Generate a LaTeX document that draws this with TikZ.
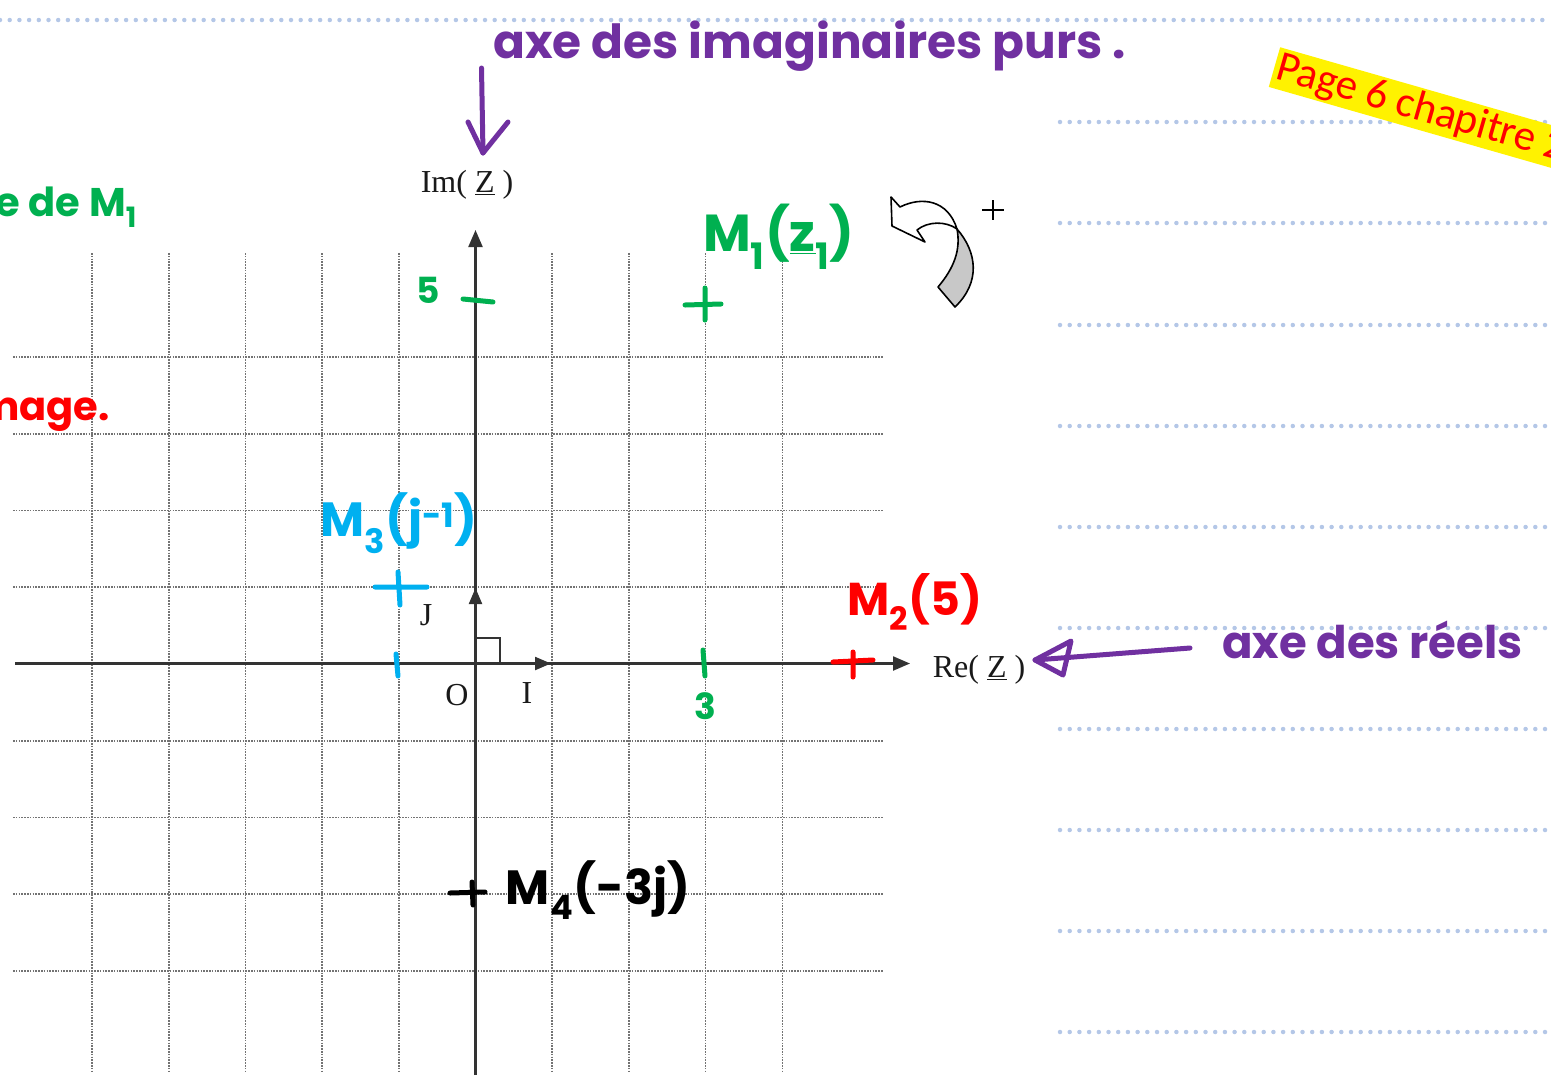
\documentclass[tikz,border=0pt]{standalone}
\usepackage{fontspec}
\setmainfont{Liberation Serif}
\newfontfamily\handfont{Poppins}
\newfontfamily\calfont{Carlito}
\usetikzlibrary{arrows.meta}
\definecolor{purp}{RGB}{112,48,160}
\definecolor{grn}{RGB}{0,176,80}
\definecolor{cyn}{RGB}{0,176,240}
\definecolor{nbblue}{RGB}{180,199,231}
\definecolor{arrgray}{RGB}{200,200,200}
\tikzset{
  gridl/.style={draw=black!55, line width=1.6pt, dash pattern=on 1.6pt off 1.2pt},
  axisl/.style={draw=black!80, line width=2.2pt},
  nbline/.style={draw=nbblue, line width=4.5pt, line cap=round, dash pattern=on 0pt off 9.7pt},
  pen/.style={line width=5pt, line cap=round, line join=round},
  serif/.style={font=\fontsize{32}{36}\selectfont, inner sep=0pt, text=black!90},
  hand/.style={font=\handfont\bfseries\fontsize{#1}{#1}\selectfont, inner sep=0pt},
  hand/.default=44,
}
\begin{document}
\begin{tikzpicture}[x=1pt,y=-1pt]
\useasboundingbox (0,0) rectangle (1551,1080);
% notebook lines
\draw[nbline] (0,20) -- (1551,20);
\foreach \y in {122,223,325,426,527,628,729,830,931,1032}
  \draw[nbline] (1060,\y) -- (1551,\y);
% page label
\node[rotate=-16, anchor=north west, fill=yellow, text=red, font=\calfont\fontsize{43}{48}\selectfont, inner xsep=3pt, inner ysep=2pt] (page) at (1280,47) {Page 6 chapitre 2};
% grid
\foreach \x in {92,168.7,245.4,322.1,398.8,552.2,628.9,705.6,782.3}
  \draw[gridl] (\x,253) -- (\x,1072);
\foreach \y in {357,433.7,510.4,587.1,740.7,817.4,894.1,970.8}
  \draw[gridl] (13,\y) -- (883,\y);
% axes
\coordinate (O) at (475.5,663.5);
\coordinate (xs) at (15,663.5);
\coordinate (xe) at (910,663.5);
\coordinate (ys) at (475.5,1075);
\coordinate (ye) at (475.5,230);
\coordinate (ui) at (551,663.5);
\coordinate (uj) at (475.5,588);
\draw[axisl,-{Triangle[length=17pt,width=14pt]}] (xs) -- (xe);
\draw[axisl,-{Triangle[length=17pt,width=14pt]}] (ys) -- (ye);
\draw[axisl,-{Triangle[length=16pt,width=13pt]}] (O) -- (ui);
\draw[axisl,-{Triangle[length=16pt,width=13pt]}] (O) -- (uj);
\draw[draw=black!80, line width=1.8pt] (475.5,638) -- (500,638) -- (500,663.5);
% serif labels
\node[serif] (im) at (467,185) {Im( \underline{Z} )};
\node[serif] (re) at (979,670) {Re( \underline{Z} )};
\node[serif] (o) at (457,695) {O};
\node[serif] (i) at (527,693) {I};
\node[serif] (j) at (426,615) {J};
% rotation arrow
\draw[line width=1.6pt, fill=arrgray, line join=round] (957,229) .. controls (977,252) and (981,282) .. (955,307) -- (938,287) .. controls (954,268) and (961,250) .. (957,229) -- cycle;
\draw[line width=1.6pt, fill=white, line join=round] (891,197) -- (900,207) .. controls (922,196) and (948,200) .. (957,229) .. controls (946,221) and (928,221) .. (917,230) -- (925,242) -- (892,226) -- cycle;
\draw[line width=1.6pt] (982,210) -- (1004,210) (993,200) -- (993,220);
% purple annotations
\node[hand=47, text=purp, anchor=base west] (imtxt) at (493,58) {axe des imaginaires purs .};
\node[hand=45, text=purp, anchor=base west] (retxt) at (1222,658) {axe des réels};
\coordinate (pa1) at (481.5,68);
\coordinate (pa2) at (483,153);
\draw[purp,pen] (pa1) -- (pa2);
\draw[purp,pen] (pa2) ++(-15,-31) -- (pa2) -- ++(25,-31);
\coordinate (pb1) at (1190,648);
\coordinate (pb2) at (1035,660);
\draw[purp,pen] (pb1) -- (pb2);
\draw[purp,pen] (pb2) -- ++(36,-19) -- ++(-8,34) -- cycle;
% green
\node[hand=40, text=grn, anchor=base east] (lefttxt) at (137,216) {e de M\textsubscript{1}};
\node[hand=52, text=grn] (m1) at (779,237) {M\textsubscript{1}(\underline{z}\textsubscript{1})};
\node[hand=36, text=grn] (five) at (428,290) {5};
\node[hand=36, text=grn] (three) at (705,706) {3};
\draw[grn,pen] (463,299) -- (493,302);
\draw[grn,pen] (685,305) -- (721,304) (705,288) -- (705,320);
\draw[grn,pen] (703,650) -- (705,676);
% red
\node[hand=40, text=red, anchor=base east] (agetxt) at (110,420) {mage.};
\node[hand=46, text=red] (m2) at (915,602) {M\textsubscript{2}(5)};
\draw[red,pen] (833,662) -- (873,660) (853,652) -- (853,677);
% cyan
\node[hand=48, text=cyn] (m3) at (399,523) {M\textsubscript{3}(j\textsuperscript{-1})};
\draw[cyn,pen] (375,587) -- (427,587) (398,572) -- (400,605);
\draw[cyn,pen] (396,654) -- (398,676);
% black
\node[hand=48, text=black] (m4) at (598,890) {M\textsubscript{4}(-3j)};
\draw[black,pen] (450,893) -- (485,892) (472,882) -- (473,905);
\end{tikzpicture}
\end{document}
